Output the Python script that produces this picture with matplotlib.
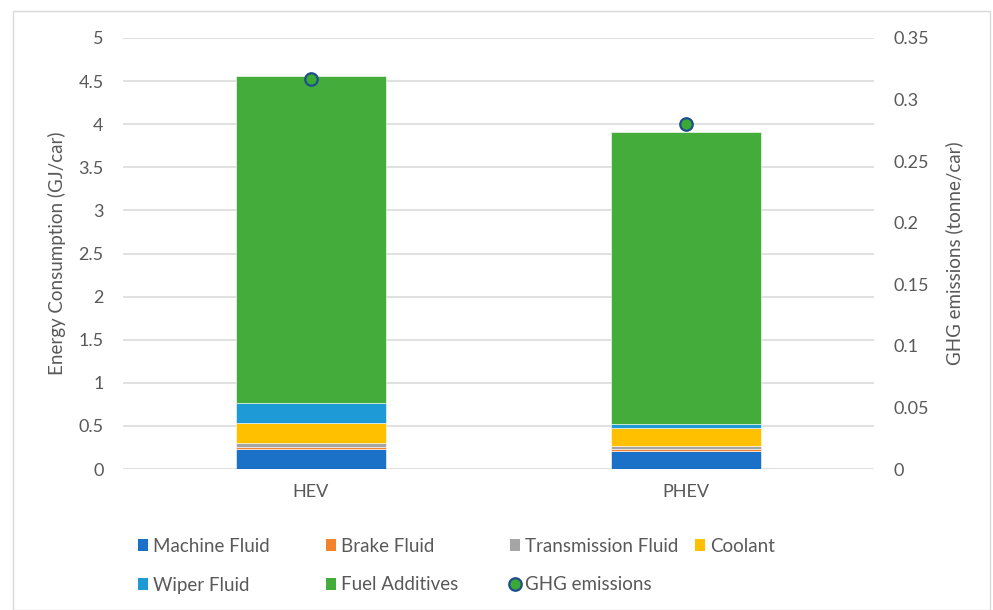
import matplotlib
matplotlib.use("Agg")
import matplotlib.pyplot as plt
from matplotlib.patches import Rectangle, Patch
from matplotlib.lines import Line2D
import numpy as np

plt.rcParams['font.family'] = ['Lato', 'DejaVu Sans']

categories = ["HEV", "PHEV"]
series_names = ["Machine Fluid", "Brake Fluid", "Transmission Fluid", "Coolant",
                "Wiper Fluid", "Fuel Additives"]
machine_fluid = [0.235, 0.21]
brake_fluid = [0.023, 0.018]
transmission_fluid = [0.047, 0.042]
coolant = [0.232, 0.209]
wiper_fluid = [0.233, 0.046]
fuel_additives = [3.79, 3.385]
ghg_emissions = [0.317, 0.280]
left_ticks = [0, 0.5, 1, 1.5, 2, 2.5, 3, 3.5, 4, 4.5, 5]
right_ticks = [0, 0.05, 0.1, 0.15, 0.2, 0.25, 0.3, 0.35]

colors = ["#1B71C8", "#F4822A", "#A5A5A5", "#FFC000", "#1E9BD7", "#43AC3B"]
text_color = "#595959"

W, H = 993, 610
fig = plt.figure(figsize=(W / 100, H / 100), dpi=100)
ax = fig.add_axes([123 / W, 1 - 469 / H, (874 - 123) / W, (469 - 38) / H])

x = np.arange(len(categories))
bottom = np.zeros(len(categories))
series = [machine_fluid, brake_fluid, transmission_fluid, coolant, wiper_fluid, fuel_additives]
handles = []
for name, vals, c in zip(series_names, series, colors):
    ax.bar(x, vals, width=0.4, bottom=bottom, color=c, edgecolor="#ffffff",
           linewidth=0.4, zorder=3)
    bottom += np.array(vals)
    handles.append(Patch(facecolor=c, edgecolor="none", label=name))

ax.set_xlim(-0.5, 1.5)
ax.set_ylim(0, 5)
ax.set_yticks(left_ticks)
ax.set_yticklabels([f"{t:g}" for t in left_ticks])
ax.set_xticks(x)
ax.set_xticklabels(categories)
ax.grid(axis="y", color="#D9D9D9", linewidth=1.1, zorder=0)
ax.set_axisbelow(True)
for s in ax.spines.values():
    s.set_visible(False)
ax.tick_params(axis="both", length=0, colors=text_color, labelsize=13)
ax.tick_params(axis="y", pad=14)
ax.tick_params(axis="x", pad=11)
ax.set_ylabel("Energy Consumption (GJ/car)", color=text_color, fontsize=13.5, labelpad=9)

ax2 = ax.twinx()
ax2.set_ylim(0, 0.35)
ax2.set_yticks(right_ticks)
ax2.set_yticklabels([f"{t:g}" for t in right_ticks])
for s in ax2.spines.values():
    s.set_visible(False)
ax2.tick_params(axis="y", length=0, colors=text_color, labelsize=13, pad=14)
ax2.set_ylabel("GHG emissions (tonne/car)", color=text_color, fontsize=13.5, labelpad=12)
ax2.plot(x, ghg_emissions, linestyle="none", marker="o", markersize=9,
         markerfacecolor="#3AAA35", markeredgecolor="#1F4E8C", markeredgewidth=1.6,
         zorder=5)
ghg_handle = Line2D([], [], linestyle="none", marker="o", markersize=9,
                    markerfacecolor="#3AAA35", markeredgecolor="#1F4E8C",
                    markeredgewidth=1.6, label="GHG emissions")
handles.append(ghg_handle)

# legend entries placed in a 4-column grid
pos = [(138, 546), (326, 546), (510, 546), (695, 546),
       (138, 585), (326, 585), (510, 585)]
for h, (px, py) in zip(handles, pos):
    fig.legend(handles=[h], loc="center left", bbox_to_anchor=(px / W, 1 - py / H),
               frameon=False, fontsize=13.5, handlelength=0.55, handleheight=0.55,
               handletextpad=0.25, borderpad=0, borderaxespad=0,
               labelcolor=text_color)

fig.patches.append(Rectangle((13 / W, 0), (990 - 13) / W, 1 - 11 / H,
                             transform=fig.transFigure, fill=False,
                             edgecolor="#D9D9D9", linewidth=1.0))

fig.savefig("out.png", dpi=100)
